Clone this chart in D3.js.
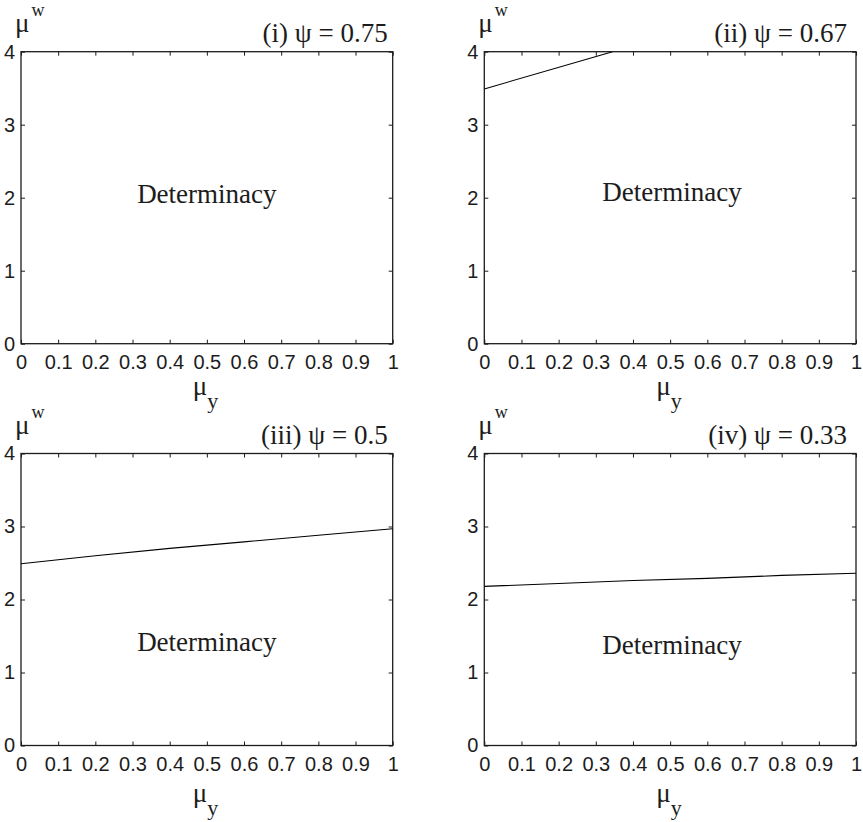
<!DOCTYPE html>
<html>
<head>
<meta charset="utf-8">
<script src="https://cdn.jsdelivr.net/npm/d3@7"></script>
<style>
  html, body { margin: 0; padding: 0; background: #fff; }
  svg { display: block; }
</style>
</head>
<body>
<svg id="chart" width="863" height="822"></svg>
<script>
// ---- data ----
const panelNumerals = ["(i)", "(ii)", "(iii)", "(iv)"];
const psiValues = [0.75, 0.67, 0.5, 0.33];
const xTickValues = [0, 0.1, 0.2, 0.3, 0.4, 0.5, 0.6, 0.7, 0.8, 0.9, 1];
const yTickValues = [0, 1, 2, 3, 4];
const regionLabel = "Determinacy";
// boundary curves (mu_y, mu^w); panel (i) has none inside the plotted range
const boundaryMuY1 = [];
const boundaryMuW1 = [];
const boundaryMuY2 = [0, 0.345];
const boundaryMuW2 = [3.49, 4.0];
const boundaryMuY3 = [0, 0.2, 0.4, 0.6, 0.8, 1.0];
const boundaryMuW3 = [2.49, 2.60, 2.70, 2.79, 2.88, 2.97];
const boundaryMuY4 = [0, 0.2, 0.4, 0.6, 0.8, 1.0];
const boundaryMuW4 = [2.18, 2.22, 2.26, 2.29, 2.33, 2.36];
// where the region label sits (data coords: mu_y, mu^w baseline)
const labelMuY = [0.5, 0.505, 0.5, 0.505];
const labelMuW = [1.93, 1.96, 1.30, 1.25];

const boundaries = [
  [boundaryMuY1, boundaryMuW1],
  [boundaryMuY2, boundaryMuW2],
  [boundaryMuY3, boundaryMuW3],
  [boundaryMuY4, boundaryMuW4]
];

// ---- layout ----
const svg = d3.select("#chart");
const W = 371.7, H = 292;
const lefts = [21, 484.3];
const tops = [51.7, 453.5];
const ink = "#1c1c1c";
const serif = "'Liberation Serif', 'Times New Roman', serif";
const sans = "'Liberation Sans', Arial, Helvetica, sans-serif";

panelNumerals.forEach((num, i) => {
  const col = i % 2, row = Math.floor(i / 2);
  const g = svg.append("g").attr("transform", `translate(${lefts[col]},${tops[row]})`);
  const x = d3.scaleLinear().domain([0, 1]).range([0, W]);
  const y = d3.scaleLinear().domain([0, 4]).range([H, 0]);

  const clipId = "clip" + i;
  g.append("clipPath").attr("id", clipId)
    .append("rect").attr("width", W).attr("height", H);

  // axes (ticks inward)
  const fmtX = d => (d === 0 || d === 1) ? d3.format("d")(d) : d3.format(".1f")(d);
  const bottom = g.append("g").attr("transform", `translate(0,${H})`)
    .call(d3.axisBottom(x).tickValues(xTickValues).tickFormat(fmtX)
      .tickSizeInner(-4).tickSizeOuter(0).tickPadding(11));
  const top = g.append("g")
    .call(d3.axisTop(x).tickValues(xTickValues).tickFormat("")
      .tickSizeInner(-4).tickSizeOuter(0));
  const left = g.append("g")
    .call(d3.axisLeft(y).tickValues(yTickValues).tickFormat(d3.format("d"))
      .tickSizeInner(-4).tickSizeOuter(0).tickPadding(6));
  const right = g.append("g").attr("transform", `translate(${W},0)`)
    .call(d3.axisRight(y).tickValues(yTickValues).tickFormat("")
      .tickSizeInner(-4).tickSizeOuter(0));
  [bottom, top, left, right].forEach(a => {
    a.attr("font-size", null).attr("font-family", null);
    a.select(".domain").remove();
    a.selectAll("line").attr("stroke", ink).attr("stroke-width", 1);
    a.selectAll("text").attr("fill", ink)
      .attr("font-family", sans).attr("font-size", 20);
  });

  // box
  g.append("rect").attr("width", W).attr("height", H)
    .attr("fill", "none").attr("stroke", ink).attr("stroke-width", 1.3);

  // boundary line
  const [bx, by] = boundaries[i];
  if (bx.length) {
    const pts = bx.map((v, k) => [v, by[k]]);
    g.append("path").datum(pts)
      .attr("clip-path", `url(#${clipId})`)
      .attr("fill", "none").attr("stroke", "#000").attr("stroke-width", 1.1)
      .attr("d", d3.line().x(d => x(d[0])).y(d => y(d[1])));
  }

  // region label
  g.append("text")
    .attr("x", x(labelMuY[i])).attr("y", y(labelMuW[i]))
    .attr("text-anchor", "middle")
    .attr("fill", ink)
    .attr("font-family", serif).attr("font-size", 27)
    .text(regionLabel);

  // panel title
  g.append("text")
    .attr("x", W - (col === 0 ? 5 : 9)).attr("y", -10)
    .attr("text-anchor", "end")
    .attr("fill", ink)
    .attr("font-family", serif).attr("font-size", 27)
    .text(`${num} \u03C8 = ${psiValues[i]}`);

  // y-axis label mu^w
  const yl = g.append("text")
    .attr("x", -6).attr("y", -20)
    .attr("fill", ink)
    .attr("font-family", serif).attr("font-size", 27);
  yl.append("tspan").text("\u03BC");
  yl.append("tspan").attr("dx", 2).attr("dy", -16).attr("font-size", 18).text("w");

  // x-axis label mu_y
  const xl = g.append("text")
    .attr("x", W / 2 - 14).attr("y", H + (row === 0 ? 51 : 56))
    .attr("fill", ink)
    .attr("font-family", serif).attr("font-size", 27);
  xl.append("tspan").text("\u03BC");
  xl.append("tspan").attr("dx", 0).attr("dy", 13).attr("font-size", 22).text("y");
});
</script>
</body>
</html>
